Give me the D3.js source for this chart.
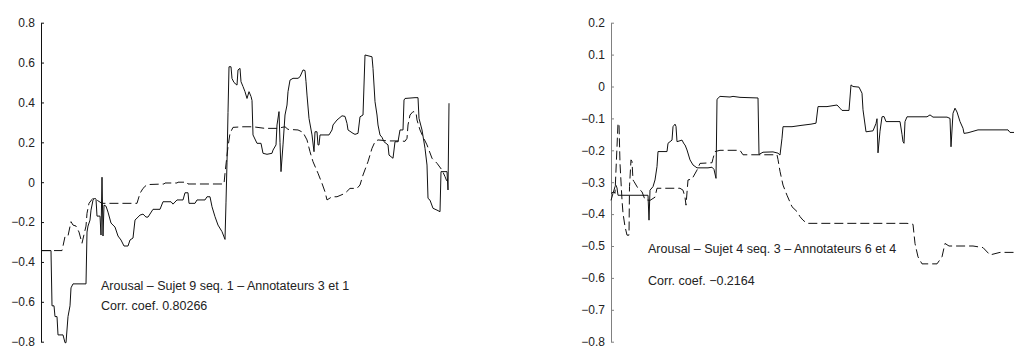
<!DOCTYPE html>
<html>
<head>
<meta charset="utf-8">
<script src="https://cdn.jsdelivr.net/npm/d3@7"></script>
<style>
  html, body { margin: 0; padding: 0; background: #fff; }
  svg { display: block; }
  text { font-family: "Liberation Sans", Arial, Helvetica, sans-serif; }
</style>
</head>
<body>
<svg id="chart" width="1014" height="350"></svg>
<script>
// Arousal annotations: each point is [sample index, arousal value]

// Sujet 9, séquence 1 — annotateur 3 (solid) and annotateur 1 (dashed)
const sujet9Annot3 = [
  [0,-0.343],[10,-0.343],[11,-0.62],[13,-0.62],[14,-0.674],[16,-0.674],[17,-0.766],[22,-0.766],
  [24,-0.805],[25,-0.805],[27,-0.674],[29,-0.62],[30,-0.53],[32,-0.51],[45,-0.51],[46,-0.25],
  [47,-0.22],[49,-0.19],[50,-0.14],[52,-0.09],[54,-0.08],[55,-0.085],[56,-0.17],[59,-0.17],
  [60,-0.265],[61,0.025],[62,-0.27],[63,-0.115],[65,-0.12],[67,-0.15],[70,-0.205],[74,-0.225],
  [77,-0.27],[80,-0.29],[83,-0.32],[87,-0.32],[89,-0.29],[92,-0.28],[94,-0.19],[99,-0.165],
  [102,-0.16],[105,-0.175],[107,-0.175],[112,-0.136],[119,-0.136],[122,-0.098],[130,-0.098],
  [132,-0.11],[136,-0.089],[142,-0.089],[144,-0.053],[147,-0.053],[148,-0.106],[154,-0.106],
  [156,-0.089],[164,-0.089],[166,-0.073],[169,-0.073],[171,-0.123],[174,-0.173],[177,-0.215],
  [181,-0.248],[184,-0.287],[185,-0.1],[186,0.1],[187,0.35],[188,0.579],[190,0.579],[191,0.52],
  [193,0.5],[196,0.487],[197,0.563],[199,0.571],[200,0.504],[202,0.48],[204,0.454],[206,0.42],
  [208,0.454],[210,0.43],[211,0.41],[212,0.237],[216,0.195],[220,0.195],[222,0.145],[226,0.14],
  [231,0.145],[232,0.161],[235,0.187],[236,0.287],[238,0.354],[239,0.2],[240,0.053],[242,0.187],
  [244,0.337],[246,0.387],[247,0.454],[249,0.512],[252,0.521],[257,0.521],[259,0.529],[262,0.563],
  [264,0.56],[265,0.504],[266,0.437],[268,0.32],[271,0.237],[273,0.153],[274,0.253],[276,0.253],
  [277,0.187],[278,0.187],[279,0.237],[288,0.237],[291,0.262],[292,0.287],[296,0.312],[301,0.333],
  [304,0.33],[306,0.295],[307,0.262],[312,0.245],[314,0.24],[317,0.245],[319,0.328],[322,0.337],
  [324,0.638],[331,0.629],[332,0.571],[334,0.404],[336,0.337],[337,0.287],[339,0.237],[341,0.225],
  [343,0.203],[347,0.187],[348,0.136],[352,0.12],[354,0.203],[357,0.203],[359,0.262],[362,0.262],
  [363,0.412],[364,0.42],[374,0.424],[377,0.424],[378,0.32],[381,0.262],[384,0.17],[386,0.086],
  [387,-0.081],[389,-0.09],[392,-0.131],[396,-0.14],[399,-0.148],[400,0.053],[406,0.053],
  [407,-0.039],[408,0.396]
];
const sujet9Annot1 = [
  [0,-0.343],[21,-0.343],[22,-0.32],[24,-0.273],[27,-0.27],[30,-0.198],[32,-0.215],[35,-0.22],
  [38,-0.25],[41,-0.306],[45,-0.22],[46,-0.156],[48,-0.106],[51,-0.086],[52,-0.081],[56,-0.09],
  [60,-0.103],[62,-0.106],[96,-0.106],[97,-0.089],[99,-0.056],[102,-0.031],[106,-0.012],
  [123,-0.009],[124,-0.004],[136,-0.004],[137,0.0],[146,0.0],[147,-0.009],[183,-0.009],[184,0.045],
  [187,0.178],[189,0.245],[192,0.275],[202,0.278],[212,0.278],[224,0.27],[236,0.27],[244,0.278],
  [247,0.265],[257,0.262],[262,0.25],[266,0.212],[269,0.153],[272,0.103],[277,0.045],[281,-0.006],
  [284,-0.048],[286,-0.089],[291,-0.073],[296,-0.073],[304,-0.056],[309,-0.031],[316,-0.031],
  [319,-0.014],[322,0.036],[327,0.103],[331,0.17],[334,0.203],[337,0.212],[347,0.207],[359,0.207],
  [364,0.205],[366,0.22],[367,0.287],[369,0.337],[372,0.354],[375,0.35],[376,0.312],[379,0.262],
  [382,0.228],[386,0.187],[391,0.12],[396,0.095],[401,0.061],[404,0.028],[406,0.003]
];

// Sujet 4, séquence 3 — annotateur 6 (solid) and annotateur 4 (dashed)
const sujet4Annot6 = [
  [0,-0.357],[2,-0.335],[4,-0.314],[5,-0.31],[6,-0.318],[7,-0.341],[37,-0.341],[38,-0.419],
  [39,-0.325],[42,-0.314],[44,-0.293],[46,-0.251],[47,-0.204],[56,-0.204],[57,-0.178],[61,-0.168],
  [62,-0.126],[64,-0.118],[65,-0.125],[66,-0.173],[69,-0.17],[71,-0.168],[73,-0.18],[74,-0.183],
  [76,-0.199],[79,-0.23],[82,-0.246],[86,-0.255],[97,-0.255],[101,-0.253],[103,-0.26],[105,-0.288],
  [106,-0.04],[109,-0.031],[119,-0.033],[122,-0.031],[129,-0.034],[147,-0.036],[148,-0.213],
  [152,-0.206],[162,-0.205],[167,-0.209],[169,-0.215],[171,-0.162],[172,-0.126],[181,-0.126],
  [190,-0.122],[200,-0.118],[205,-0.115],[207,-0.063],[216,-0.063],[226,-0.058],[229,-0.068],
  [231,-0.075],[238,-0.075],[240,0.005],[242,0.0],[248,-0.002],[251,-0.021],[252,-0.073],
  [255,-0.142],[262,-0.139],[265,-0.116],[266,-0.101],[267,-0.208],[269,-0.14],[271,-0.095],
  [273,-0.094],[275,-0.11],[289,-0.11],[291,-0.15],[292,-0.173],[293,-0.178],[294,-0.11],
  [296,-0.095],[316,-0.095],[319,-0.089],[322,-0.096],[336,-0.096],[339,-0.1],[340,-0.189],
  [342,-0.084],[344,-0.068],[346,-0.08],[349,-0.11],[352,-0.131],[353,-0.147],[357,-0.145],
  [367,-0.136],[397,-0.136],[399,-0.144],[403,-0.144]
];
const sujet4Annot4 = [
  [0,-0.335],[3,-0.33],[4,-0.335],[7,-0.116],[8,-0.116],[9,-0.241],[11,-0.356],[12,-0.397],
  [14,-0.439],[16,-0.466],[18,-0.466],[18.5,-0.314],[20,-0.23],[21,-0.235],[22,-0.293],[23,-0.298],
  [27,-0.319],[31,-0.33],[34,-0.355],[39,-0.357],[44,-0.347],[46,-0.319],[69,-0.319],[72,-0.325],
  [74,-0.347],[75,-0.372],[77,-0.293],[81,-0.29],[86,-0.262],[89,-0.241],[101,-0.239],[102,-0.226],
  [104,-0.204],[109,-0.2],[129,-0.2],[132,-0.214],[166,-0.214],[167,-0.229],[169,-0.266],
  [172,-0.309],[176,-0.341],[181,-0.377],[186,-0.392],[189,-0.408],[192,-0.419],[196,-0.429],
  [296,-0.429],[302,-0.432],[304,-0.492],[307,-0.534],[311,-0.556],[326,-0.556],[331,-0.534],
  [334,-0.492],[338,-0.5],[362,-0.5],[372,-0.505],[379,-0.528],[389,-0.52],[403,-0.52]
];

// Axis ticks and annotation texts
const leftTicks = [0.8, 0.6, 0.4, 0.2, 0, -0.2, -0.4, -0.6, -0.8];
const rightTicks = [0.2, 0.1, 0, -0.1, -0.2, -0.3, -0.4, -0.5, -0.6, -0.7, -0.8];
const leftTitle = "Arousal \u2013 Sujet 9 seq. 1 \u2013 Annotateurs 3 et 1";
const leftCorr = "Corr. coef. 0.80266";
const rightTitle = "Arousal \u2013 Sujet 4 seq. 3 \u2013 Annotateurs 6 et 4";
const rightCorr = "Corr. coef. \u22120.2164";

const svg = d3.select("#chart");
const fmt = d3.format(".1f");

function drawPanel(p) {
  const x = d3.scaleLinear().domain(p.xDomain).range([p.x0, p.x1]);
  const y = d3.scaleLinear().domain(p.yDomain).range([p.yBottom, p.yTop]);
  const g = svg.append("g");

  const axis = d3.axisLeft(y)
    .tickValues(p.ticks)
    .tickSizeInner(-3)
    .tickSizeOuter(0)
    .tickPadding(6)
    .tickFormat(v => Math.abs(v) < 1e-9 ? "0" : fmt(v));

  const ax = g.append("g")
    .attr("transform", `translate(${p.x0},0)`)
    .call(axis);
  ax.select(".domain").attr("stroke", p.axisColor).attr("stroke-width", 1);
  ax.selectAll(".tick line").attr("stroke", p.axisColor);
  ax.selectAll(".tick text")
    .attr("fill", "#222")
    .style("font-size", "12px")
    .style("font-family", "'Liberation Sans', Arial, Helvetica, sans-serif");

  const line = d3.line().x(d => x(d[0])).y(d => y(d[1]));

  g.append("path")
    .datum(p.dashed)
    .attr("fill", "none")
    .attr("stroke", "#111")
    .attr("stroke-width", 1)
    .attr("stroke-dasharray", "9,4")
    .attr("d", line);

  g.append("path")
    .datum(p.solid)
    .attr("fill", "none")
    .attr("stroke", "#111")
    .attr("stroke-width", 1)
    .attr("d", line);

  g.append("text")
    .attr("x", p.textX).attr("y", p.titleY)
    .attr("fill", "#222").style("font-size", "12.5px")
    .text(p.title);
  g.append("text")
    .attr("x", p.textX).attr("y", p.corrY)
    .attr("fill", "#222").style("font-size", "12.5px")
    .text(p.corr);
}

drawPanel({
  x0: 41, x1: 451, xDomain: [0, 410],
  yTop: 22.7, yBottom: 341.7, yDomain: [-0.8, 0.8],
  ticks: leftTicks, axisColor: "#111",
  solid: sujet9Annot3, dashed: sujet9Annot1,
  textX: 101, titleY: 289.5, corrY: 309.5,
  title: leftTitle, corr: leftCorr
});

drawPanel({
  x0: 611, x1: 1014, xDomain: [0, 403],
  yTop: 22.7, yBottom: 341.7, yDomain: [-0.8, 0.2],
  ticks: rightTicks, axisColor: "#808080",
  solid: sujet4Annot6, dashed: sujet4Annot4,
  textX: 648, titleY: 252.5, corrY: 284.5,
  title: rightTitle, corr: rightCorr
});
</script>
</body>
</html>
